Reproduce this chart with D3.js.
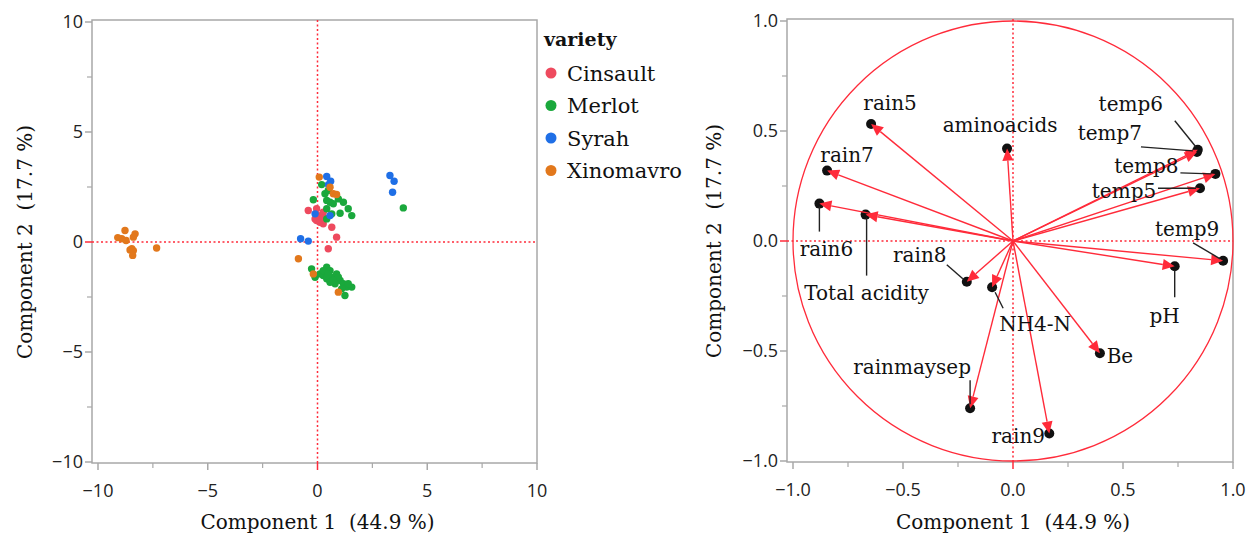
<!DOCTYPE html>
<html>
<head>
<meta charset="utf-8">
<script src="https://cdn.jsdelivr.net/npm/d3@7"></script>
<style>
  html, body { margin: 0; padding: 0; background: #fff; }
  svg { display: block; }
  .tick-label { font-family: "Open Sans", "DejaVu Sans", sans-serif; font-size: 18px; fill: #222; }
  .serif { font-family: "DejaVu Serif", "Liberation Serif", serif; fill: #111; }
  .axis-title { white-space: pre; }
</style>
</head>
<body>
<svg id="chart" width="1255" height="537"></svg>
<script>
// ---- Score plot data (PCA scores, Component 1 / Component 2) ----
const varieties = ["Cinsault", "Merlot", "Syrah", "Xinomavro"];
const varietyColors = ["#ee4a5e", "#1aa83c", "#1f6fe6", "#e2781c"];

const cinsaultScores = [
  [-0.42, 1.43], [-0.04, 1.51], [0.04, 1.20], [0.11, 0.90], [0.26, 0.83],
  [-0.04, 0.98], [0.65, 0.67], [0.87, 0.22], [0.49, -0.31], [0.19, 1.13],
  [-0.11, 1.05], [0.26, 1.35], [0.10, 1.00], [0.30, 1.10]
];
const merlotScores = [
  [0.19, 2.61], [0.34, 2.19], [-0.19, 1.92], [0.42, 1.89], [0.57, 1.81],
  [0.95, 1.96], [1.18, 1.81], [1.40, 1.51], [1.56, 1.20], [1.03, 1.31],
  [0.42, 1.51], [0.65, 1.28], [0.42, 1.05], [0.72, 1.74], [0.49, 2.34],
  [3.91, 1.55],
  [-0.27, -1.22], [-0.11, -1.60], [0.42, -1.14], [0.57, -1.30], [0.26, -1.52],
  [0.42, -1.67], [0.72, -1.60], [0.87, -1.45], [1.03, -1.75], [1.18, -1.90],
  [1.33, -2.05], [1.56, -2.05], [0.80, -1.90], [1.10, -2.13], [1.25, -2.43],
  [0.57, -1.83], [0.11, -1.45], [0.95, -1.60], [1.40, -1.90], [0.72, -1.75],
  [0.26, -1.30], [0.49, -1.45]
];
const syrahScores = [
  [0.42, 2.98], [0.60, 2.76], [0.50, 2.60], [-0.11, 1.28], [0.57, 1.20],
  [-0.77, 0.15], [-0.42, 0.04], [3.30, 3.02], [3.49, 2.76], [3.42, 2.26]
];
const xinomavroScores = [
  [-8.77, 0.52], [-8.92, 0.15], [-8.72, 0.07], [-8.31, 0.37], [-8.39, 0.22],
  [-8.46, -0.31], [-8.39, -0.39], [-8.54, -0.36], [-8.42, -0.61], [-7.33, -0.27],
  [-9.10, 0.20], [0.08, 2.95], [0.57, 2.49], [0.72, 2.19], [0.87, 2.16],
  [-0.87, -0.76], [-0.19, -1.45], [0.95, -2.28]
];
const scoreSets = [cinsaultScores, merlotScores, syrahScores, xinomavroScores];

// ---- Loading plot data ----
const loadingNames = ["rain5", "aminoacids", "rain7", "rain6", "Total acidity", "rain8",
  "NH4-N", "rainmaysep", "rain9", "Be", "pH", "temp9", "temp5", "temp8", "temp7", "temp6"];
const loadingX = [-0.645, -0.027, -0.845, -0.88, -0.67, -0.21, -0.095, -0.195, 0.165,
  0.395, 0.735, 0.955, 0.85, 0.92, 0.836, 0.84];
const loadingY = [0.532, 0.42, 0.32, 0.17, 0.12, -0.185, -0.21, -0.76, -0.875,
  -0.51, -0.115, -0.09, 0.24, 0.305, 0.405, 0.415];

// Tick values
const scoreTicks = [-10, -5, 0, 5, 10];
const scoreMinor = [-7.5, -2.5, 2.5, 7.5];
const loadTicks = [-1, -0.5, 0, 0.5, 1];
const loadMinor = [-0.75, -0.25, 0.25, 0.75];
const xTitle = "Component 1  (44.9 %)";
const yTitle = "Component 2  (17.7 %)";

// Label placement for loading names (pixel offsets from the point: label centre, optional leader)
const labelLayout = {
  "rain5":        { dx: 19,  dy: -20 },
  "aminoacids":   { dx: -7,  dy: -23 },
  "rain7":        { dx: 20,  dy: -15 },
  "rain6":        { dx: 7,   dy: 46, lead: [0, 3, 0, 28] },
  "Total acidity":{ dx: 1,   dy: 79, lead: [1, 3, 1, 61] },
  "rain8":        { dx: -47, dy: -26, lead: [-20, -17, -4, -3] },
  "NH4-N":        { dx: 43,  dy: 37, lead: [3, 5, 11, 21] },
  "rainmaysep":   { dx: -58, dy: -41, lead: [0, -28, 0, -4] },
  "rain9":        { dx: -31, dy: 3 },
  "Be":           { dx: 20,  dy: 3 },
  "pH":           { dx: -10, dy: 50, lead: [0, 4, 0, 31] },
  "temp9":        { dx: -36, dy: -31, lead: [-30, -18, -3, -2] },
  "temp5":        { dx: -76, dy: 3, lead: [-42, 0, -4, 0] },
  "temp8":        { dx: -69, dy: -7, lead: [-35, -1, -4, 0] },
  "temp7":        { dx: -87, dy: -18, lead: [-56, -5, -4, -1] },
  "temp6":        { dx: -67, dy: -45, lead: [-23, -29, -2, -3] }
};

const svg = d3.select("#chart");
const axisGray = "#a8a8a8";
const refRed = "#ff2b3a";

function drawFrame(g, x, y, ticks, minor, fmt, yTitleX) {
  const [x0, x1] = x.range();
  const [y0, y1] = y.range();
  const left = x0 - 6, bottom = y0 + 1;
  g.append("rect")
    .attr("x", left).attr("y", y1 - 2)
    .attr("width", x1 - left).attr("height", bottom - (y1 - 2))
    .attr("fill", "none").attr("stroke", axisGray).attr("stroke-width", 1.5);

  // x axis ticks
  g.selectAll(".xt").data(ticks).join("line")
    .attr("x1", d => x(d)).attr("x2", d => x(d))
    .attr("y1", bottom).attr("y2", bottom + 7)
    .attr("stroke", d => d === 0 ? refRed : axisGray).attr("stroke-width", 1.5);
  g.selectAll(".xm").data(minor).join("line")
    .attr("x1", d => x(d)).attr("x2", d => x(d))
    .attr("y1", bottom).attr("y2", bottom + 5)
    .attr("stroke", axisGray).attr("stroke-width", 1.2);
  g.selectAll(".xl").data(ticks).join("text")
    .attr("class", "tick-label")
    .attr("x", d => x(d)).attr("y", bottom + 34)
    .attr("text-anchor", "middle").text(fmt);

  // y axis ticks
  g.selectAll(".yt").data(ticks).join("line")
    .attr("y1", d => y(d)).attr("y2", d => y(d))
    .attr("x1", left).attr("x2", left - 7)
    .attr("stroke", d => d === 0 ? refRed : axisGray).attr("stroke-width", 1.5);
  g.selectAll(".ym").data(minor).join("line")
    .attr("y1", d => y(d)).attr("y2", d => y(d))
    .attr("x1", left).attr("x2", left - 5)
    .attr("stroke", axisGray).attr("stroke-width", 1.2);
  g.selectAll(".yl").data(ticks).join("text")
    .attr("class", "tick-label")
    .attr("x", left - 9).attr("y", d => y(d))
    .attr("dy", "0.36em")
    .attr("text-anchor", "end").text(fmt);

  // reference lines through the origin
  g.append("line")
    .attr("x1", x(0)).attr("x2", x(0)).attr("y1", y1 - 2).attr("y2", bottom)
    .attr("stroke", refRed).attr("stroke-width", 1.5).attr("stroke-dasharray", "2,2.5");
  g.append("line")
    .attr("x1", left).attr("x2", x1).attr("y1", y(0)).attr("y2", y(0))
    .attr("stroke", refRed).attr("stroke-width", 1.5).attr("stroke-dasharray", "2,2.5");

  // titles
  g.append("text").attr("class", "serif axis-title")
    .attr("x", (x0 + x1) / 2).attr("y", 529)
    .attr("text-anchor", "middle").style("font-size", "20px").text(xTitle);
  g.append("text").attr("class", "serif axis-title")
    .attr("transform", `translate(${yTitleX},${y(0)}) rotate(-90)`)
    .attr("dy", "0.35em")
    .attr("text-anchor", "middle").style("font-size", "20px").text(yTitle);
}

// ---------------- Left: score plot ----------------
const xs = d3.scaleLinear().domain([-10, 10]).range([98, 537]);
const ys = d3.scaleLinear().domain([-10, 10]).range([462, 22]);
const gL = svg.append("g");
drawFrame(gL, xs, ys, scoreTicks, scoreMinor, d => d3.format("d")(d), 25);

scoreSets.forEach((set, i) => {
  gL.append("g").selectAll("circle").data(set).join("circle")
    .attr("cx", d => xs(d[0])).attr("cy", d => ys(d[1]))
    .attr("r", 3.7).attr("fill", varietyColors[i]);
});

// legend
const leg = gL.append("g").attr("transform", "translate(544,0)");
leg.append("text").attr("class", "serif").attr("x", 0).attr("y", 46)
  .style("font-size", "19px").style("font-weight", "bold").text("variety");
varieties.forEach((v, i) => {
  const yy = 73 + i * 32.5;
  leg.append("circle").attr("cx", 7).attr("cy", yy).attr("r", 5.5).attr("fill", varietyColors[i]);
  leg.append("text").attr("class", "serif").attr("x", 23).attr("y", yy).attr("dy", "0.36em")
    .style("font-size", "21px").text(v);
});

// ---------------- Right: loading plot ----------------
const xl = d3.scaleLinear().domain([-1, 1]).range([793, 1233]);
const yl = d3.scaleLinear().domain([-1, 1]).range([461, 21]);
const gR = svg.append("g");
drawFrame(gR, xl, yl, loadTicks, loadMinor, d => d3.format(".1f")(d), 714);

// unit circle
gR.append("ellipse")
  .attr("cx", xl(0)).attr("cy", yl(0))
  .attr("rx", xl(1) - xl(0)).attr("ry", yl(0) - yl(1))
  .attr("fill", "none").attr("stroke", refRed).attr("stroke-width", 1.3);

const loadings = loadingNames.map((n, i) => ({ name: n, x: loadingX[i], y: loadingY[i] }));

// black end markers
gR.append("g").selectAll("circle").data(loadings).join("circle")
  .attr("cx", d => xl(d.x)).attr("cy", d => yl(d.y))
  .attr("r", 5).attr("fill", "#111");

// arrows from the origin
const arrows = gR.append("g");
loadings.forEach(d => {
  const x0 = xl(0), y0 = yl(0), x1 = xl(d.x), y1 = yl(d.y);
  const ang = Math.atan2(y1 - y0, x1 - x0);
  const hl = 12, hw = 5.5;
  const bx = x1 - hl * Math.cos(ang), by = y1 - hl * Math.sin(ang);
  arrows.append("line")
    .attr("x1", x0).attr("y1", y0).attr("x2", bx).attr("y2", by)
    .attr("stroke", refRed).attr("stroke-width", 1.4);
  const px = -Math.sin(ang) * hw, py = Math.cos(ang) * hw;
  arrows.append("path")
    .attr("d", `M${x1},${y1}L${bx + px},${by + py}L${bx - px},${by - py}Z`)
    .attr("fill", refRed);
});

// leaders and labels
const lab = gR.append("g");
loadings.forEach(d => {
  const L = labelLayout[d.name];
  const px = xl(d.x), py = yl(d.y);
  if (L.lead) {
    lab.append("line")
      .attr("x1", px + L.lead[0]).attr("y1", py + L.lead[1])
      .attr("x2", px + L.lead[2]).attr("y2", py + L.lead[3])
      .attr("stroke", "#222").attr("stroke-width", 1.4);
  }
  lab.append("text").attr("class", "serif")
    .attr("x", px + L.dx).attr("y", py + L.dy).attr("dy", "0.32em")
    .attr("text-anchor", "middle").style("font-size", "20px")
    .text(d.name);
});
</script>
</body>
</html>
